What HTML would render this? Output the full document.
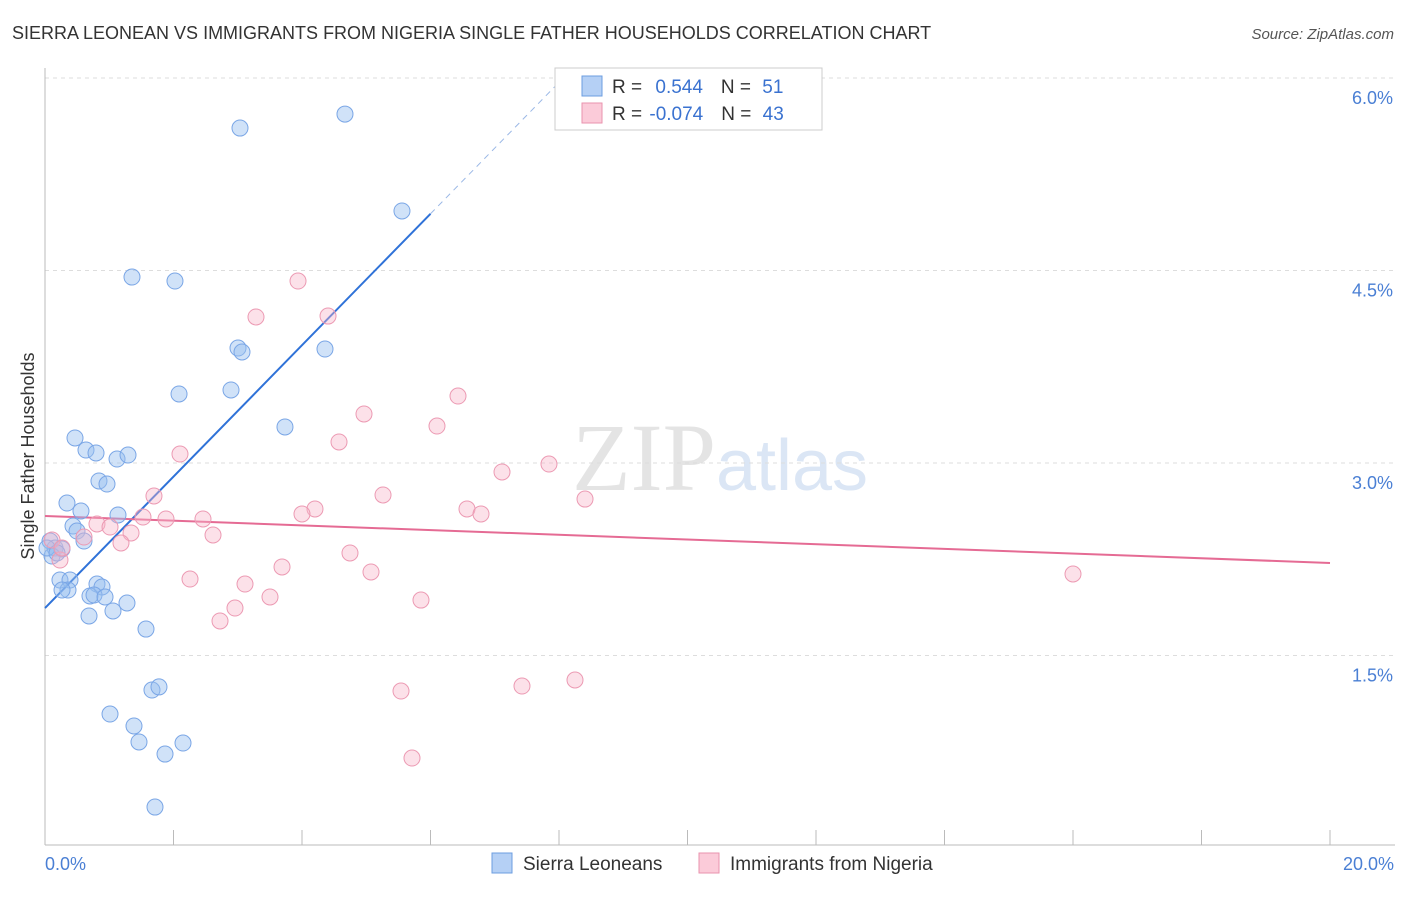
<!DOCTYPE html>
<html><head><meta charset="utf-8"><style>
body{margin:0;background:#fff;font-family:"Liberation Sans",sans-serif}
svg text{font-family:"Liberation Sans",sans-serif}
</style></head><body>
<svg id="c" width="1406" height="892">
<text x="12" y="39" font-size="18" fill="#333">SIERRA LEONEAN VS IMMIGRANTS FROM NIGERIA SINGLE FATHER HOUSEHOLDS CORRELATION CHART</text>
<text x="1394" y="39" font-size="15" fill="#555" text-anchor="end" font-style="italic">Source: ZipAtlas.com</text>
<text x="720" y="490" font-size="96" fill="#e4e4e4" text-anchor="middle" font-family="Liberation Serif"><tspan font-family="Liberation Serif">ZIP</tspan><tspan fill="#dbe6f5" font-size="72" font-family="Liberation Sans">atlas</tspan></text>
<text transform="translate(34,456) rotate(-90)" font-size="18" fill="#333" text-anchor="middle">Single Father Households</text>
<g id="grid"></g><g id="axes"></g><g id="lines"></g><g id="pts"></g>
<g>
<rect x="555" y="68" width="267" height="62" fill="#fff" stroke="#ccc"/>
<rect x="582" y="76" width="20" height="20" fill="#b5d0f5" stroke="#6c9ee0"/>
<rect x="582" y="103" width="20" height="20" fill="#fbcbd9" stroke="#ea93ae"/>
<text x="612" y="93" font-size="19" fill="#333">R = <tspan fill="#3a72d0" dx="8">0.544</tspan><tspan dx="18" fill="#333">N = </tspan><tspan fill="#3a72d0" dx="6">51</tspan></text>
<text x="612" y="120" font-size="19" fill="#333">R = <tspan fill="#3a72d0" dx="2">-0.074</tspan><tspan dx="18" fill="#333">N = </tspan><tspan fill="#3a72d0" dx="6">43</tspan></text>
</g>
<g>
<rect x="492" y="853" width="20" height="20" fill="#b5d0f5" stroke="#6c9ee0"/>
<text x="523" y="870" font-size="19" fill="#333">Sierra Leoneans</text>
<rect x="699" y="853" width="20" height="20" fill="#fbcbd9" stroke="#ea93ae"/>
<text x="730" y="870" font-size="19" fill="#333">Immigrants from Nigeria</text>
</g>
</svg>
<script>
const blueX=[3.035,4.669,5.556,1.354,2.023,3.004,3.066,4.358,2.086,2.895,3.735,0.467,0.638,0.794,1.121,1.292,0.840,0.965,0.342,0.560,1.136,0.436,0.498,0.607,0.078,0.156,0.265,0.109,0.233,0.389,0.358,0.265,0.809,0.887,0.700,0.763,0.934,1.276,0.685,1.058,1.572,1.012,1.385,1.463,1.868,2.148,1.665,1.774,1.712,0.031,0.187];
const blueY=[5.610,5.719,4.964,4.449,4.418,3.896,3.865,3.888,3.538,3.569,3.281,3.195,3.101,3.078,3.031,3.062,2.860,2.836,2.688,2.626,2.595,2.509,2.470,2.392,2.392,2.338,2.330,2.275,2.088,2.088,2.010,2.010,2.057,2.034,1.964,1.971,1.956,1.909,1.808,1.847,1.706,1.044,0.951,0.826,0.732,0.818,1.231,1.255,0.319,2.338,2.299];
const pinkX=[3.938,3.284,4.405,6.428,4.965,6.101,4.576,2.101,7.844,7.113,5.261,8.405,1.696,4.202,4.0,6.568,6.786,1.525,1.883,2.459,0.809,1.012,1.339,0.607,2.615,1.183,4.747,3.689,5.074,2.257,3.113,3.502,2.957,5.852,2.724,5.541,7.424,8.249,5.712,16.0,0.109,0.233,0.265];
const pinkY=[4.418,4.138,4.145,3.522,3.382,3.288,3.164,3.070,2.992,2.930,2.751,2.719,2.743,2.642,2.603,2.642,2.603,2.579,2.564,2.564,2.525,2.501,2.455,2.423,2.439,2.377,2.299,2.190,2.151,2.096,2.057,1.956,1.870,1.932,1.769,1.223,1.262,1.309,0.701,2.135,2.400,2.244,2.338];
const yTicks=[1.5,3.0,4.5,6.0];
const xTickLabels=["0.0%","20.0%"];
const blueTrend=[1.870,0.512];
const pinkTrend=[2.587,-0.0183];
const NS="http://www.w3.org/2000/svg";
const X=v=>45+v*64.25, Y=v=>463-(v-3)*128.33;
function mk(p,t,a){const e=document.createElementNS(NS,t);for(const k in a)e.setAttribute(k,a[k]);document.getElementById(p).appendChild(e);return e;}
yTicks.forEach(t=>{
 const l=mk('grid','line',{x1:45,x2:1395,y1:Y(t),y2:Y(t),stroke:'#ddd','stroke-dasharray':'4,4'});
 
 
 const tx=mk('grid','text',{x:1393,y:Y(t)+26,'font-size':18,fill:'#4a7fd4','text-anchor':'end'});
 tx.textContent=t.toFixed(1)+'%';
 
 
});
const ax=mk('axes','line',{x1:45,x2:1395,y1:845,y2:845,stroke:'#bbb'});


const ay=mk('axes','line',{x1:45,x2:45,y1:68,y2:845,stroke:'#bbb'});


for(let i=1;i<=10;i++){const t=mk('axes','line',{x1:X(i*2),x2:X(i*2),y1:830,y2:845,stroke:'#bbb'});
 
 }
[[0,'start',45],[1,'end',1394]].forEach(([i,a,x])=>{const t=mk('axes','text',{x:x,y:870,'font-size':18,fill:'#4a7fd4','text-anchor':a});t.textContent=xTickLabels[i];
 
 });
blueX.forEach((x,i)=>{const c=mk('pts','circle',{cx:X(x),cy:Y(blueY[i]),r:8,fill:'rgba(150,190,240,0.45)',stroke:'#7aa6e6','stroke-width':1});
 
 });
pinkX.forEach((x,i)=>{const c=mk('pts','circle',{cx:X(x),cy:Y(pinkY[i]),r:8,fill:'rgba(248,180,200,0.4)',stroke:'#ec9ab3','stroke-width':1});
 
 });
const bl=mk('lines','line',{x1:X(0),y1:Y(blueTrend[0]),x2:X(6),y2:Y(blueTrend[0]+6*blueTrend[1]),stroke:'#2f72d8','stroke-width':2});


const bd=mk('lines','line',{x1:X(6),y1:Y(blueTrend[0]+6*blueTrend[1]),x2:X(7.95),y2:Y(blueTrend[0]+7.95*blueTrend[1]),stroke:'#9bb8e6','stroke-width':1,'stroke-dasharray':'6,5'});


const pl=mk('lines','line',{x1:X(0),y1:Y(pinkTrend[0]),x2:X(20),y2:Y(pinkTrend[0]+20*pinkTrend[1]),stroke:'#e56b94','stroke-width':2});


</script>
</body></html>
